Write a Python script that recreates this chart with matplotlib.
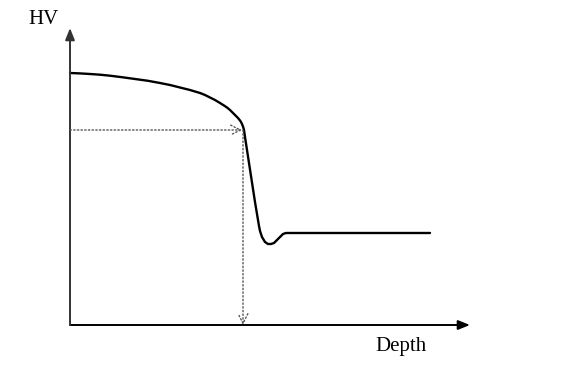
import matplotlib.pyplot as plt

# hardness profile (arbitrary units: depth, HV)
depth = [0, 10, 20, 30, 40, 52, 65, 78, 90, 100, 110, 120, 130, 135, 140, 145, 150,
         154, 157, 160, 163, 166, 168, 170, 171, 172, 173, 174, 175, 177, 181, 185,
         187, 188, 189, 190, 192, 195, 198, 201, 204, 207, 210, 213, 216, 220, 280, 360]
hv = [252, 251.6, 251, 250.3, 249.3, 247.8, 246, 244.2, 242, 240, 237.5, 235, 232,
      230, 227.5, 225, 222, 219.5, 217.5, 215, 212, 209, 207, 204.5, 203, 201, 198.5,
      195, 188, 175, 149, 123, 111, 105, 99, 94, 88, 83, 81, 81, 82, 85, 88, 91, 92,
      92, 92, 92]

# case depth marker
case_depth = 173
case_hv = 195

x_end = 400
y_end = 297

fig = plt.figure(figsize=(5.63, 3.67), dpi=100)
ax = fig.add_axes([0, 0, 1, 1])
ax.set_xlim(-70, 493)
ax.set_ylim(-42, 325)
ax.axis('off')

# axes with arrows
ax.annotate('', xy=(x_end, 0), xytext=(0, 0),
            arrowprops=dict(arrowstyle='-|>,head_length=0.7,head_width=0.28',
                            color='black', lw=1.4, shrinkA=0, shrinkB=0))
ax.annotate('', xy=(0, y_end), xytext=(0, 0),
            arrowprops=dict(arrowstyle='-|>,head_length=0.7,head_width=0.28',
                            color='#333333', lw=1.4, shrinkA=0, shrinkB=0))

ax.plot(depth, hv, color='black', lw=1.7, solid_capstyle='round',
        solid_joinstyle='round')

# dotted guide arrows
ax.annotate('', xy=(case_depth - 1, case_hv), xytext=(0, case_hv),
            arrowprops=dict(arrowstyle='->,head_length=0.7,head_width=0.35',
                            color='#555555', lw=1.0, linestyle=':',
                            shrinkA=0, shrinkB=0))
ax.annotate('', xy=(case_depth, 0), xytext=(case_depth, case_hv),
            arrowprops=dict(arrowstyle='->,head_length=0.7,head_width=0.35',
                            color='#555555', lw=1.0, linestyle=':',
                            shrinkA=0, shrinkB=0))

ax.text(-42, 305, 'HV', fontsize=15, family='Liberation Serif', ha='left', va='center')
ax.text(305, -21, 'Depth', fontsize=15, family='Liberation Serif', ha='left', va='center')

fig.savefig('out.png', dpi=100)
